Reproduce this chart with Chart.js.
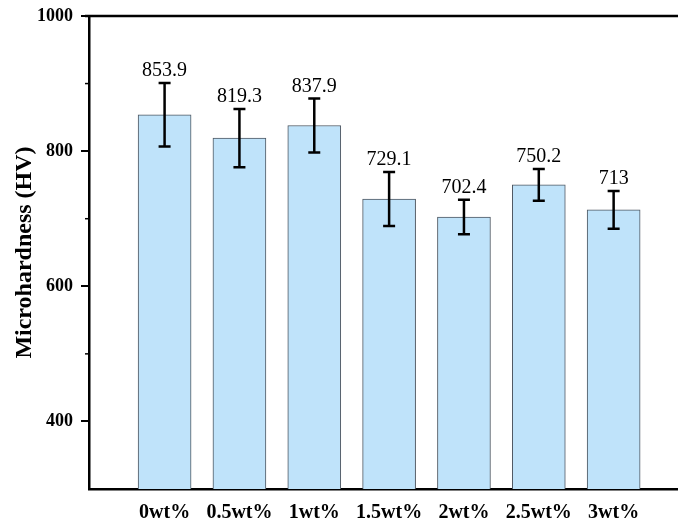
<!DOCTYPE html>
<html>
<head>
<meta charset="utf-8">
<script src="https://cdn.jsdelivr.net/npm/chart.js@4"></script>
<style>
  html, body { margin: 0; padding: 0; background: #fff; }
  #wrap { width: 678px; height: 522px; }
</style>
</head>
<body>
<div id="wrap"><canvas id="chart_hv"></canvas></div>
<script>
(function(){
  'use strict';

  var labels = ['0wt%', '0.5wt%', '1wt%', '1.5wt%', '2wt%', '2.5wt%', '3wt%'];
  var hardness = [853.9, 819.3, 837.9, 729.1, 702.4, 750.2, 713];
  var errors = [47, 43, 40, 40, 25.5, 23.5, 28];
  var valueLabels = ['853.9', '819.3', '837.9', '729.1', '702.4', '750.2', '713'];
  var majorTicks = [400, 600, 800, 1000];
  var minorTicks = [500, 700, 900];

  var serif = "'Liberation Serif', 'Times New Roman', serif";

  var points = hardness.map(function(v, i){ return {x: i, y: v}; });

  // error bars, value labels, minor ticks and the top frame line
  var extras = {
    id: 'extras',
    afterDatasetsDraw: function(chart){
      var ctx = chart.ctx;
      var xs = chart.scales.x, ys = chart.scales.y;
      var area = chart.chartArea;
      ctx.save();
      ctx.strokeStyle = '#000';
      hardness.forEach(function(v, i){
        var x = xs.getPixelForValue(i);
        var top = ys.getPixelForValue(v + errors[i]);
        var bot = ys.getPixelForValue(v - errors[i]);
        ctx.lineWidth = 2.5;
        ctx.beginPath();
        ctx.moveTo(x, top); ctx.lineTo(x, bot);
        ctx.moveTo(x - 6, top); ctx.lineTo(x + 6, top);
        ctx.moveTo(x - 6, bot); ctx.lineTo(x + 6, bot);
        ctx.stroke();
        ctx.fillStyle = '#000';
        ctx.font = '20px ' + serif;
        ctx.textAlign = 'center';
        ctx.textBaseline = 'bottom';
        ctx.fillText(valueLabels[i], x, top - 2);
      });
      // minor ticks
      ctx.lineWidth = 1.5;
      minorTicks.forEach(function(t){
        var y = ys.getPixelForValue(t);
        ctx.beginPath();
        ctx.moveTo(area.left - 4, y); ctx.lineTo(area.left, y);
        ctx.stroke();
      });
      // top frame line
      ctx.lineWidth = 2.5;
      ctx.beginPath();
      ctx.moveTo(area.left - 4, area.top); ctx.lineTo(area.right, area.top);
      ctx.stroke();
      ctx.restore();
    }
  };

  var ctx = document.getElementById('chart_hv').getContext('2d');
  var myChart = new Chart(ctx, {
    type: 'bar',
    data: {
      datasets: [{
        data: points,
        backgroundColor: '#bfe3fa',
        borderColor: '#4d5660',
        borderWidth: 1,
        barThickness: 53
      }]
    },
    plugins: [extras],
    options: {
      responsive: true,
      maintainAspectRatio: false,
      animation: false,
      layout: { padding: { top: 16, right: 0, left: 0, bottom: 0 } },
      plugins: { legend: { display: false }, tooltip: { enabled: false } },
      scales: {
        x: {
          type: 'linear',
          offset: false,
          min: -1.01,
          max: 6.86,
          grid: { display: false, offset: false },
          border: { display: true, color: '#000', width: 2.5 },
          afterFit: function(scale){ scale.height = 33; },
          afterBuildTicks: function(scale){
            scale.ticks = labels.map(function(l, i){ return {value: i}; });
          },
          ticks: {
            autoSkip: false,
            maxRotation: 0,
            padding: 4,
            color: '#000',
            font: { family: serif, size: 20, weight: 'bold' },
            callback: function(v){ return labels[v] || ''; }
          }
        },
        y: {
          min: 300,
          max: 1000,
          afterFit: function(scale){ scale.width = 89; },
          afterBuildTicks: function(scale){
            scale.ticks = majorTicks.map(function(v){ return {value: v}; });
          },
          grid: { drawOnChartArea: false, tickLength: 8, color: '#000', lineWidth: 2 },
          border: { display: true, color: '#000', width: 2.5 },
          ticks: {
            padding: 8,
            color: '#000',
            font: { family: serif, size: 18, weight: 'bold', lineHeight: 0.8 },
            callback: function(v){ return String(v); }
          },
          title: {
            display: true,
            text: 'Microhardness (HV)',
            color: '#000',
            font: { family: serif, size: 24, weight: 'bold' },
            padding: { top: 10, bottom: 0 }
          }
        }
      }
    }
  });
})();
</script>
</body>
</html>
